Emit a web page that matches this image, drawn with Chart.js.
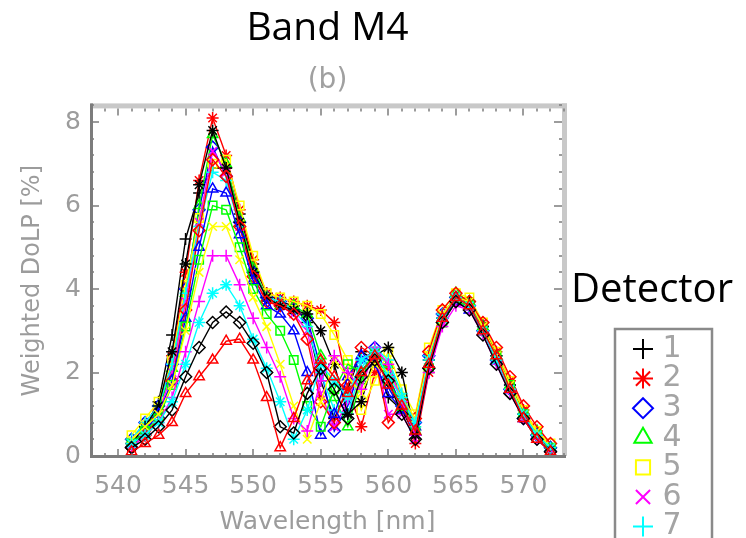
<!DOCTYPE html>
<html>
<head>
<meta charset="utf-8">
<script src="https://cdn.jsdelivr.net/npm/chart.js@4.4.1/dist/chart.umd.min.js"></script>
<style>
  html, body { margin: 0; padding: 0; background: #fff; }
</style>
</head>
<body>
<canvas id="dolp" width="746" height="538"></canvas>
<script>
// wavelength grid [nm]
var wavelength = [541,542,543,544,545,546,547,548,549,550,551,552,553,554,555,556,
                  557,558,559,560,561,562,563,564,565,566,567,568,569,570,571,572];

// weighted DoLP [%] per detector
var det1  = [0.3,0.7,1.3,2.9,5.2,6.3,6.9,6.9,5.8,4.6,3.9,3.7,3.6,3.2,1.8,0.9,1.6,2.5,2.3,1.4,1.1,0.5,2.3,3.3,3.7,3.6,3.1,2.4,1.7,1.0,0.5,0.2];
var det2  = [0.2,0.6,1.1,2.4,4.4,6.6,8.1,7.2,5.9,4.7,3.9,3.8,3.7,3.6,3.5,3.2,1.6,0.7,2.0,2.1,1.3,0.3,2.0,3.2,3.8,3.7,3.2,2.5,1.8,1.1,0.6,0.1];
var det3  = [0.4,0.8,1.2,2.2,4.0,5.9,7.4,6.7,5.6,4.4,3.8,3.7,3.5,3.3,2.1,0.6,1.2,2.2,2.6,1.9,1.2,0.8,2.4,3.4,3.8,3.6,3.0,2.3,1.6,0.9,0.5,0.2];
var det4  = [0.3,0.7,1.1,2.1,3.9,6.0,7.7,7.0,5.7,4.5,3.8,3.6,3.6,3.4,2.4,1.4,0.7,1.8,2.5,2.2,1.4,0.6,2.2,3.3,3.9,3.7,3.1,2.4,1.7,1.0,0.6,0.2];
var det5  = [0.5,0.9,1.3,2.3,4.1,5.7,7.0,7.1,6.0,4.8,3.9,3.8,3.7,3.6,3.4,2.9,2.3,1.1,1.8,2.5,1.6,1.0,2.6,3.5,3.9,3.8,3.2,2.5,1.8,1.1,0.6,0.3];
var det6  = [0.3,0.6,1.0,2.0,3.7,5.6,7.3,6.8,5.5,4.3,3.7,3.6,3.4,3.0,1.5,0.7,1.3,2.3,2.5,1.0,1.0,0.4,2.1,3.2,3.7,3.6,3.0,2.3,1.6,0.9,0.5,0.2];
var det7  = [0.4,0.8,1.2,2.2,3.9,5.5,6.8,6.6,5.5,4.4,3.8,3.7,3.5,3.1,2.0,1.1,1.0,2.1,2.6,2.3,1.5,0.7,2.4,3.4,3.8,3.6,3.1,2.4,1.7,1.0,0.5,0.1];
var det8  = [0.3,0.7,1.2,2.5,4.6,6.5,7.8,6.9,5.6,4.4,3.8,3.6,3.5,3.4,3.0,2.2,1.0,1.3,2.4,2.6,2.0,0.5,2.3,3.3,3.8,3.7,3.1,2.4,1.7,1.0,0.5,0.2];
var det9  = [0.2,0.5,0.9,1.8,3.5,5.4,7.1,6.7,5.5,4.3,3.7,3.6,3.4,2.8,1.3,0.8,1.7,2.6,2.4,0.8,1.3,0.9,2.5,3.5,3.9,3.7,3.2,2.6,1.9,1.2,0.7,0.3];
var det10 = [0.3,0.6,1.0,1.8,3.3,5.0,6.4,6.3,5.3,4.2,3.6,3.4,3.0,2.0,0.5,1.0,1.9,2.4,2.2,1.5,1.1,0.7,2.2,3.3,3.7,3.5,3.0,2.3,1.6,0.9,0.5,0.2];
var det11 = [0.3,0.6,0.9,1.7,3.1,4.7,6.0,5.9,5.0,4.0,3.4,3.0,2.3,1.2,0.7,1.6,2.2,2.0,2.5,1.8,1.2,0.6,2.1,3.2,3.7,3.6,3.0,2.4,1.7,1.0,0.5,0.2];
var det12 = [0.4,0.7,1.0,1.7,3.0,4.4,5.5,5.5,4.7,3.8,3.1,2.2,1.2,0.4,1.3,2.3,1.9,1.5,2.2,2.0,1.4,0.9,2.4,3.4,3.8,3.7,3.1,2.4,1.7,1.0,0.6,0.2];
var det13 = [0.2,0.5,0.8,1.4,2.5,3.7,4.8,4.8,4.1,3.3,2.6,1.9,0.9,0.6,1.8,2.4,2.0,1.6,2.6,2.2,1.3,0.5,2.0,3.1,3.6,3.5,2.9,2.2,1.5,0.9,0.4,0.1];
var det14 = [0.3,0.5,0.8,1.3,2.2,3.2,3.9,4.1,3.6,2.8,2.1,1.3,0.4,1.1,2.2,1.8,1.4,2.3,2.5,1.9,1.4,0.8,2.3,3.3,3.8,3.6,3.0,2.3,1.6,1.0,0.5,0.2];
var det15 = [0.2,0.4,0.7,1.1,1.9,2.6,3.2,3.45,3.2,2.7,2.0,0.7,0.55,1.5,2.1,1.6,0.9,1.9,2.3,1.8,1.0,0.4,2.1,3.2,3.7,3.5,2.9,2.2,1.5,0.9,0.4,0.1];
var det16 = [0.1,0.3,0.5,0.8,1.5,1.9,2.3,2.75,2.8,2.3,1.4,0.2,0.9,1.8,2.3,1.9,1.5,2.0,2.4,1.7,1.2,0.6,2.2,3.3,3.8,3.6,3.0,2.4,1.6,0.9,0.4,0.1];

var detectorValues = [det1, det2, det3, det4, det5, det6, det7, det8,
                      det9, det10, det11, det12, det13, det14, det15, det16];
var detectorNames = ['1','2','3','4','5','6','7','8','9','10','11','12','13','14','15','16'];

// colour table and symbols cycle like the IDL plot
var detectorColors = ['#000000','#ff0000','#0000ff','#00ff00','#ffff00','#ff00ff','#00ffff',
                      '#000000','#ff0000','#0000ff','#00ff00','#ffff00','#ff00ff','#00ffff',
                      '#000000','#ff0000'];
var detectorSymbols = ['cross','star','rectRot','triangle','rect','crossRot',
                       'cross','star','rectRot','triangle','rect','crossRot',
                       'cross','star','rectRot','triangle'];

var xTicks = [540, 545, 550, 555, 560, 565, 570];
var yTicks = [0, 2, 4, 6, 8];

var datasets = detectorValues.map(function(vals, i) {
    return {
        label: detectorNames[i],
        data: vals.map(function(v, j) { return {x: wavelength[j], y: v}; }),
        borderColor: detectorColors[i],
        backgroundColor: 'rgba(0,0,0,0)',
        borderWidth: 1.4,
        pointStyle: detectorSymbols[i],
        pointRadius: 6,
        pointBorderWidth: 1.5,
        pointBorderColor: detectorColors[i],
        pointBackgroundColor: 'rgba(0,0,0,0)',
        tension: 0,
        order: -i
    };
});

// box round the plot with inward ticks on all four sides
var frameBox = {
    id: 'frameBox',
    afterDatasetsDraw: function(chart) {
        var ctx = chart.ctx, a = chart.chartArea;
        var xs = chart.scales.x, ys = chart.scales.y;
        ctx.save();
        ctx.fillStyle = '#c8c8c8';
        ctx.fillRect(a.left, a.top - 2, a.right - a.left + 3, 5);
        ctx.fillRect(a.right - 2, a.top - 2, 5, a.bottom - a.top + 2);
        ctx.fillStyle = '#7c7c7c';
        ctx.fillRect(a.left - 1, a.top - 2, 3, a.bottom - a.top + 4);
        ctx.fillRect(a.left - 1, a.bottom - 1, a.right - a.left + 3, 3);

        ctx.strokeStyle = '#7c7c7c';
        ctx.lineWidth = 1.5;
        ctx.beginPath();
        for (var w = xs.min; w <= xs.max; w++) {
            var px = Math.round(xs.getPixelForValue(w));
            var len = (w % 5 === 0) ? 7 : 3;
            ctx.moveTo(px, a.bottom); ctx.lineTo(px, a.bottom - len);
            ctx.moveTo(px, a.top + 3); ctx.lineTo(px, a.top + 3 + len);
        }
        for (var k = 0; k * 0.4 <= ys.max + 0.001; k++) {
            var py = Math.round(ys.getPixelForValue(k * 0.4));
            var ylen = (k % 5 === 0) ? 8 : 3;
            ctx.moveTo(a.left, py); ctx.lineTo(a.left + ylen, py);
            ctx.moveTo(a.right - 2, py); ctx.lineTo(a.right - 2 - ylen, py);
        }
        ctx.stroke();
        ctx.restore();
    }
};

// detector key on the right, runs past the bottom edge
var detectorKey = {
    id: 'detectorKey',
    afterDraw: function(chart) {
        var ctx = chart.ctx;
        ctx.save();
        ctx.fillStyle = '#000';
        ctx.font = '40px "Open Sans"';
        ctx.textAlign = 'left';
        ctx.textBaseline = 'alphabetic';
        ctx.fillText('Detector', 571, 302);

        ctx.strokeStyle = '#8a8a8a';
        ctx.lineWidth = 2.5;
        ctx.strokeRect(615, 329, 97, 520);

        chart.data.datasets.forEach(function(ds, i) {
            var y = 349 + i * 29.6;
            ctx.strokeStyle = ds.borderColor;
            ctx.fillStyle = 'rgba(0,0,0,0)';
            ctx.lineWidth = 2;
            Chart.helpers.drawPoint(ctx, {pointStyle: ds.pointStyle, radius: 10, rotation: 0, borderWidth: 2}, 643, y);
            ctx.fillStyle = '#a4a4a4';
            ctx.font = '30px "DejaVu Sans"';
            ctx.textAlign = 'center';
            ctx.textBaseline = 'middle';
            ctx.fillText(ds.label, 672, y);
        });
        ctx.restore();
    }
};

var tickFont = {family: 'DejaVu Sans', size: 25};

var chart = new Chart(document.getElementById('dolp'), {
    type: 'line',
    data: { datasets: datasets },
    plugins: [frameBox, detectorKey],
    options: {
        responsive: false,
        animation: false,
        devicePixelRatio: 1,
        layout: { padding: { left: 0, right: 182, top: 0, bottom: 0 } },
        plugins: {
            legend: { display: false },
            tooltip: { enabled: false },
            title: {
                display: true,
                fullSize: false,
                text: 'Band M4',
                color: '#000',
                font: {family: 'Open Sans', size: 39, weight: 'normal'},
                padding: {top: 5, bottom: 0}
            },
            subtitle: {
                display: true,
                fullSize: false,
                text: '(b)',
                color: '#a0a0a0',
                font: {family: 'DejaVu Sans', size: 28},
                padding: {top: 12, bottom: 8}
            }
        },
        scales: {
            x: {
                type: 'linear',
                min: 538,
                max: 573,
                grid: { display: false, drawTicks: false },
                border: { display: false },
                afterFit: function(scale) { scale.height = 82; },
                afterBuildTicks: function(scale) {
                    scale.ticks = xTicks.map(function(v) { return {value: v}; });
                },
                ticks: { color: '#9c9c9c', font: tickFont, padding: 15, maxRotation: 0, autoSkip: false },
                title: {
                    display: true,
                    text: 'Wavelength [nm]',
                    color: '#9c9c9c',
                    font: tickFont,
                    padding: {top: 0, bottom: 1}
                }
            },
            y: {
                type: 'linear',
                min: 0,
                max: 8.4,
                grid: { display: false, drawTicks: false },
                border: { display: false },
                afterFit: function(scale) { scale.width = 91; },
                afterBuildTicks: function(scale) {
                    scale.ticks = yTicks.map(function(v) { return {value: v}; });
                },
                ticks: { color: '#9c9c9c', font: tickFont, padding: 10 },
                title: {
                    display: true,
                    text: 'Weighted DoLP [%]',
                    color: '#9c9c9c',
                    font: {family: 'DejaVu Sans', size: 24},
                    padding: {top: 18, bottom: 0}
                }
            }
        }
    }
});
</script>
</body>
</html>
